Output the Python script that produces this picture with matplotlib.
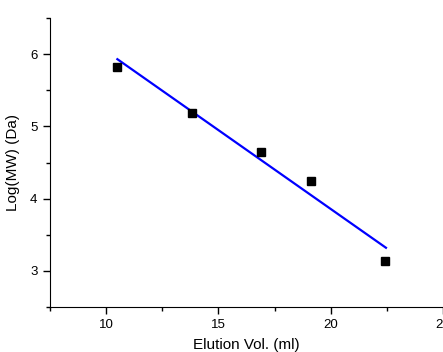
import matplotlib
matplotlib.use("Agg")
import matplotlib.pyplot as plt
from matplotlib.ticker import MultipleLocator

plt.rcParams['font.family'] = ['Liberation Sans', 'DejaVu Sans']

# datos medidos (volumen de elución vs log MW)
elution_vol = [10.49, 13.83, 16.89, 19.11, 22.42]
log_mw = [5.82, 5.19, 4.64, 4.24, 3.13]

# recta de ajuste
fit_x = [10.5, 22.46]
fit_y = [5.93, 3.32]

fig = plt.figure(figsize=(4.43, 3.52), dpi=100)
# el eje llega justo al borde derecho, como en la imagen original
ax = fig.add_axes([50 / 443, 45 / 352, 393 / 443, 289 / 352])

ax.plot(fit_x, fit_y, color='#0000ff', lw=1.6)
ax.plot(elution_vol, log_mw, 's', color='black', ms=5.5, mec='black')

ax.set_xlim(7.5, 25)
ax.set_ylim(2.5, 6.5)
ax.xaxis.set_major_locator(MultipleLocator(5))
ax.xaxis.set_minor_locator(MultipleLocator(2.5))
ax.yaxis.set_major_locator(MultipleLocator(1))
ax.yaxis.set_minor_locator(MultipleLocator(0.5))
ax.tick_params(which='major', direction='out', length=5, width=1, labelsize=9.5, pad=4)
ax.tick_params(which='minor', direction='out', length=3, width=1)

ax.spines['top'].set_visible(False)
ax.spines['right'].set_visible(False)

ax.set_xlabel("Elution Vol. (ml)", fontsize=11, labelpad=5)
ax.set_ylabel("Log(MW) (Da)", fontsize=11, labelpad=7)

fig.savefig("out.png", dpi=100)
